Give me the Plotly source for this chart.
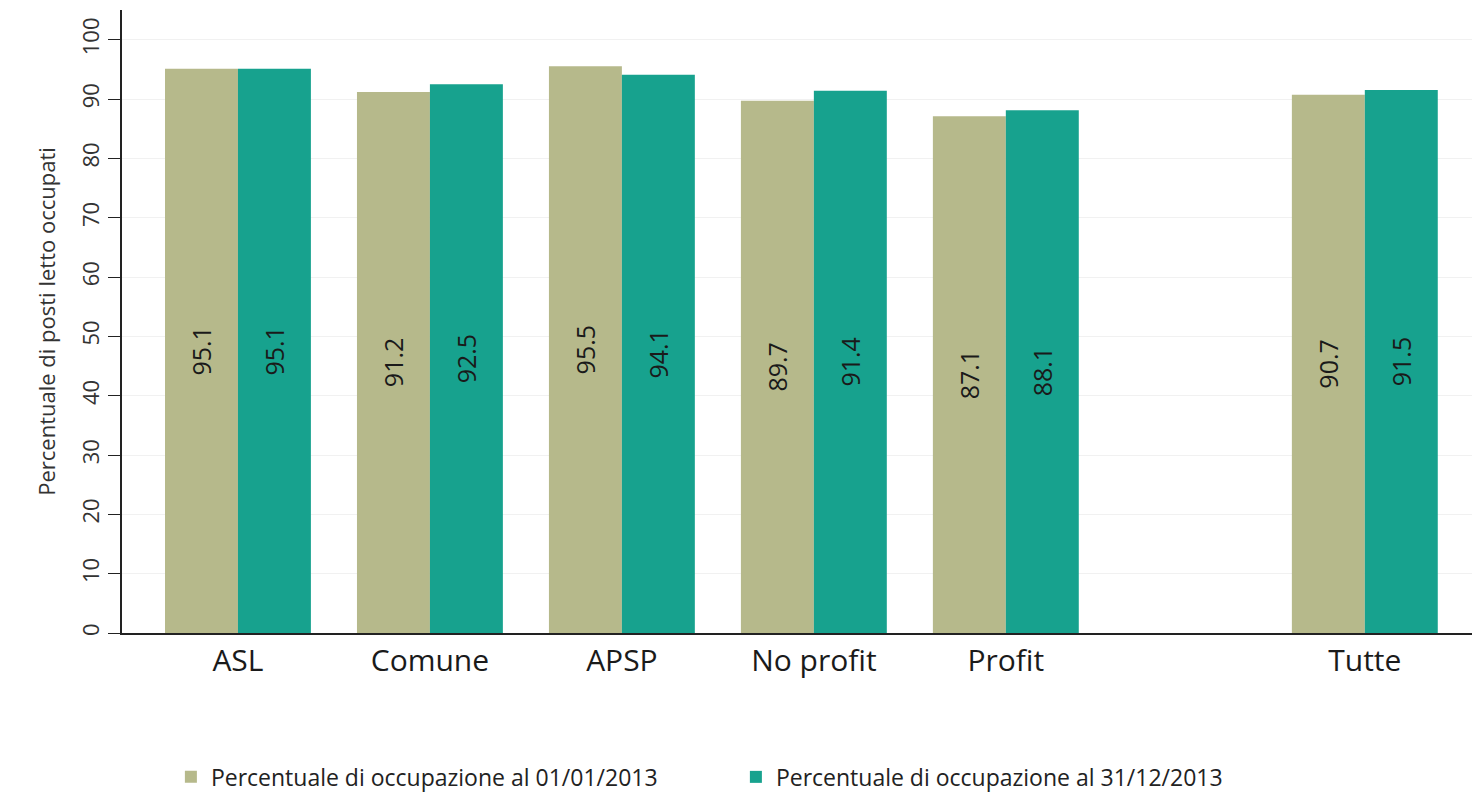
import plotly.graph_objects as go

categories = ["ASL", "Comune", "APSP", "No profit", "Profit", "Tutte"]
inizio_2013 = [95.1, 91.2, 95.5, 89.7, 87.1, 90.7]
fine_2013 = [95.1, 92.5, 94.1, 91.4, 88.1, 91.5]
series_names = ["Percentuale di occupazione al 01/01/2013",
                "Percentuale di occupazione al 31/12/2013"]
y_ticks = [0, 10, 20, 30, 40, 50, 60, 70, 80, 90, 100]

# group positions on the x axis (Tutte set apart from the others)
positions = [1, 2, 3, 4, 5, 6.87]

OLIVE = "#b6b98b"
TEAL = "#17a28e"
FONT = "Open Sans"
BAR_W = 0.38

fig = go.Figure()
fig.add_trace(go.Bar(
    x=positions, y=inizio_2013, name=series_names[0],
    marker=dict(color=OLIVE, line=dict(width=0)),
    width=BAR_W, offset=-BAR_W,
    text=[f"{v:.1f}" for v in inizio_2013], textposition="inside",
    insidetextanchor="middle", textangle=-90,
    textfont=dict(family=FONT, size=25, color="#1a1a1a"),
    cliponaxis=False,
))
fig.add_trace(go.Bar(
    x=positions, y=fine_2013, name=series_names[1],
    marker=dict(color=TEAL, line=dict(width=0)),
    width=BAR_W, offset=0,
    text=[f"{v:.1f}" for v in fine_2013], textposition="inside",
    insidetextanchor="middle", textangle=-90,
    textfont=dict(family=FONT, size=25, color="#1a1a1a"),
    cliponaxis=False,
))

# page body adds an 8px offset, so the figure is sized to the visible area
fig.update_layout(
    width=1472, height=784,
    margin=dict(l=114, r=0, t=2, b=159, autoexpand=False),
    paper_bgcolor="white", plot_bgcolor="white",
    font=dict(family=FONT, color="#222222"),
    barmode="overlay",
    showlegend=True,
    legend=dict(
        orientation="h", x=0.036, xanchor="left", y=-0.231, yanchor="middle",
        font=dict(family=FONT, size=23, color="#222222"),
        entrywidth=520, entrywidthmode="pixels",
        traceorder="normal", itemsizing="constant",
    ),
)

fig.update_xaxes(
    range=[0.396, 7.47], automargin=False,
    tickmode="array", tickvals=positions, ticktext=categories,
    tickfont=dict(family=FONT, size=30, color="#1a1a1a"),
    showline=True, linecolor="#222222", linewidth=2,
    ticks="", showgrid=False, zeroline=False,
)
fig.update_yaxes(
    range=[0, 105], automargin=False,
    tickmode="array", tickvals=y_ticks, ticktext=[str(v) for v in y_ticks],
    tickangle=-90,
    tickfont=dict(family=FONT, size=22, color="#333333"),
    ticks="outside", ticklen=12, tickcolor="#222222", tickwidth=1.2,
    showline=True, linecolor="#222222", linewidth=2,
    showgrid=True, gridcolor="#f1f1f1", gridwidth=1,
    zeroline=False,
    title=dict(text="Percentuale di posti letto occupati",
               font=dict(family=FONT, size=22, color="#333333"), standoff=14),
)

fig.write_html("out.html")
